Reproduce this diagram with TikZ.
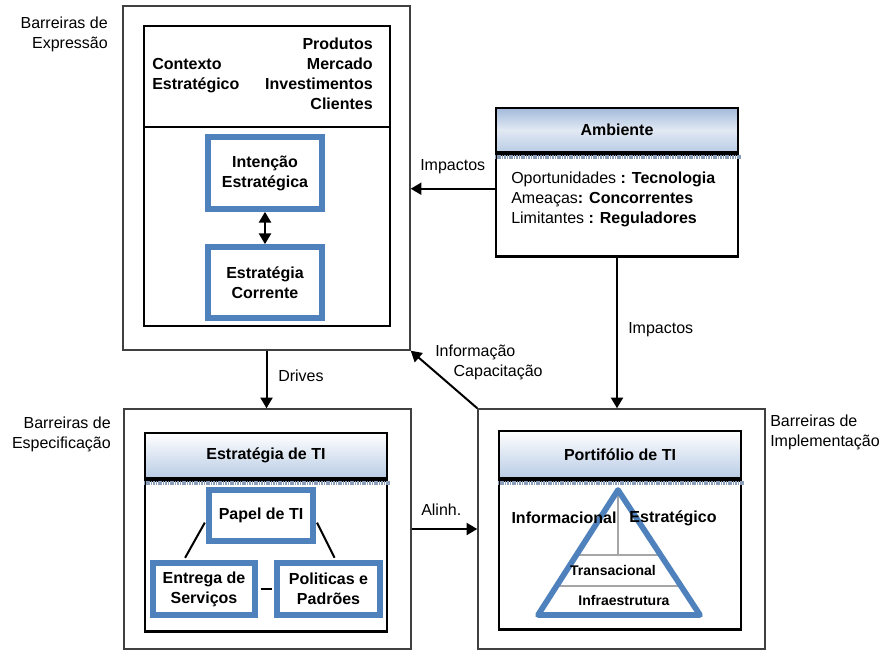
\documentclass[tikz,border=0pt]{standalone}
\usepackage{fontspec}
\setmainfont{Liberation Sans}
\usetikzlibrary{arrows.meta,positioning}
\definecolor{boxblue}{HTML}{4F81BD}
\definecolor{hdrtop}{HTML}{A3BBDB}
\definecolor{hdrpale}{HTML}{E2E9F3}
\definecolor{hdrbot}{HTML}{B9CCE5}
\definecolor{framegray}{HTML}{404040}
\definecolor{pyrgray}{HTML}{A6A6A6}
\definecolor{stripcol}{HTML}{8A9DB8}

\begin{document}
\begin{tikzpicture}[x=0.75pt, y=-0.75pt,
    every node/.style={font=\fontsize{12}{15}\selectfont, inner sep=0pt},
    outerbox/.style={draw=framegray, line width=1.1pt, minimum width=215.25pt, minimum height=#1},
    panel/.style={draw, line width=2.2pt, minimum width=181.5pt, minimum height=#1},
    hdr/.style={panel=#1, font=\fontsize{12}{15}\selectfont\bfseries, top color=white, bottom color=hdrbot},
    bluebox/.style 2 args={draw=boxblue, line width=4.3pt, fill=white, align=center,
        font=\fontsize{12}{15}\selectfont\bfseries, minimum width=#1, minimum height=#2},
    bold/.style={font=\fontsize{12}{15}\selectfont\bfseries},
    small/.style={font=\fontsize{10.5}{13}\selectfont\bfseries},
    strip/.style={draw=stripcol, line width=2.5pt, dash pattern=on 1.2pt off 0.6pt},
    arr/.style={-{Triangle[width=9pt,length=8pt]}, line width=1.5pt},
    link/.style={line width=1.5pt, shorten <=2pt, shorten >=2pt},
    pyr/.style={draw=pyrgray, line width=1.3pt}]
    \useasboundingbox (0,0) rectangle (883,650);

    % Barriers
    \node[outerbox=258pt] (expr) at (266.5,178) {};
    \node[outerbox=180pt] (spec) at (267.5,529) {};
    \node[outerbox=180pt] (impl) at (621.5,529) {};
    \node[anchor=east, align=right] (bexp) at (108,34) {Barreiras de\\Expressão};
    \node[anchor=east, align=right] (bspec) at (111,434) {Barreiras de\\Especificação};
    \node[anchor=west, align=left] (bimpl) at (770,432) {Barreiras de\\Implementação};

    % Expression
    \node[panel=75.75pt, minimum width=184.5pt] (ctx) at (267,76.5) {};
    \node[panel=149.25pt, minimum width=184.5pt] (core) at (267,226.5) {};
    \node[bold, anchor=west, align=left] (ctxtxt) at (152,76) {Contexto\\Estratégico};
    \node[bold, anchor=east, align=right] (ctxlist) at (373,74) {Produtos\\Mercado\\Investimentos\\Clientes};
    \node[bluebox={85.5pt}{54pt}] (int) at (265,173) {Intenção\\Estratégica};
    \node[bluebox={85.5pt}{53pt}, below of=int, node distance=82pt] (corr) {Estratégia\\Corrente};
    \draw[{Triangle[width=9pt,length=8pt]}-{Triangle[width=9pt,length=8pt]}, line width=1.5pt] (int) -- (corr);

    % Environment
    \node[hdr=33pt, top color=hdrtop, bottom color=hdrbot, middle color=hdrpale] (amb) at (617,130) {Ambiente};
    \node[panel=76.5pt, anchor=north] (ambbody) at (amb.south) {};
    \draw[strip] ([yshift=-2.6pt]amb.south west) -- ([yshift=-2.6pt,xshift=1.5pt]amb.south east);
    \node[anchor=west, align=left] (ambtxt) at (511,199)
        {Oportunidades \textbf{: Tecnologia}\\Ameaças\textbf{: Concorrentes}\\Limitantes \textbf{: Reguladores}};

    % Specification
    \node[hdr=33.75pt] (itstr) at (266,455.5) {Estratégia de TI};
    \node[panel=113.25pt, anchor=north] (itbody) at (itstr.south) {};
    \draw[strip] ([yshift=-2.6pt]itstr.south west) -- ([yshift=-2.6pt,xshift=1.5pt]itstr.south east);
    \node[bluebox={78pt}{38.25pt}] (papel) at (261,515.5) {Papel de TI};
    \node[bluebox={76.5pt}{39pt}] (entrega) at (204,589) {Entrega de\\Serviços};
    \node[bluebox={77.25pt}{39pt}, right of=entrega, node distance=93.4pt] (polit) {Politicas e\\Padrões};
    \draw[link] (papel.185) -- (entrega.125);
    \draw[link] (papel.355) -- (polit.76);
    \draw[link] (entrega) -- (polit);

    % Implementation
    \node[hdr=35.25pt] (port) at (620,454.5) {Portifólio de TI};
    \node[panel=111.75pt, anchor=north] (portbody) at (port.south) {};
    \draw[strip] ([yshift=-2.6pt]port.south west) -- ([yshift=-2.6pt,xshift=1.5pt]port.south east);
    \coordinate (apex) at (618,490);
    \coordinate (bl) at (538,615);
    \coordinate (br) at (700,615);
    \draw[pyr] (618,493) -- (618,555);
    \draw[pyr] (575,555) -- (658,555);
    \draw[pyr] (557,586) -- (678,586);
    \draw[draw=boxblue, line width=4.3pt, line join=round] (apex) -- (bl) -- (br) -- cycle;
    \node[bold] (infm) at (564,518) {Informacional};
    \node[bold] (estr) at (673,518) {Estratégico};
    \node[small] (trans) at (613,570) {Transacional};
    \node[small] (infra) at (624,600) {Infraestrutura};

    % Draw Edges
    \draw[arr] (ambbody.172) -- (ambbody.172 -| expr.east);
    \node[anchor=west] (imp1) at (420,167) {Impactos};
    \draw[arr] (ambbody.south) -- (ambbody.south |- impl.north);
    \node[anchor=west] (imp2) at (628,330) {Impactos};
    \draw[arr] (expr.south) -- (expr.south |- spec.north);
    \node[anchor=west] (drv) at (278,376) {Drives};
    \draw[arr] (spec.east) -- (impl.west);
    \node[anchor=west] (alin) at (421,510) {Alinh.};
    \draw[arr] (impl.north west) -- (expr.south east);
    \node[anchor=west, align=left] (infcap) at (435,362) {Informação\\\hspace{1.15em}Capacitação};
\end{tikzpicture}
\end{document}
